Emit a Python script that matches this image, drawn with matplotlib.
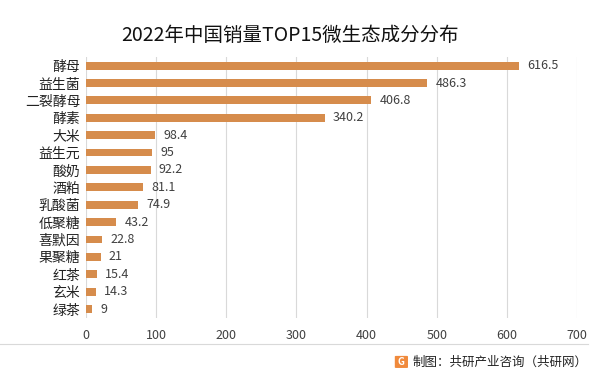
import matplotlib
matplotlib.use("Agg")
import matplotlib.pyplot as plt
from matplotlib.patches import FancyBboxPatch
from matplotlib.lines import Line2D

plt.rcParams['font.family'] = ['Noto Sans CJK SC', 'DejaVu Sans']

categories = ['酵母', '益生菌', '二裂酵母', '酵素', '大米', '益生元', '酸奶', '酒粕',
              '乳酸菌', '低聚糖', '喜默因', '果聚糖', '红茶', '玄米', '绿茶']
values = [616.5, 486.3, 406.8, 340.2, 98.4, 95, 92.2, 81.1,
          74.9, 43.2, 22.8, 21, 15.4, 14.3, 9]
value_labels = ['616.5', '486.3', '406.8', '340.2', '98.4', '95', '92.2', '81.1',
                '74.9', '43.2', '22.8', '21', '15.4', '14.3', '9']
xticks = [0, 100, 200, 300, 400, 500, 600, 700]

fig = plt.figure(figsize=(6, 3.77), dpi=100)
ax = fig.add_axes([0.143, 0.157, 0.819, 0.692])

ypos = list(range(len(categories)))
ax.barh(ypos, values, height=0.45, color='#D68C4C', zorder=3)
for y, v, lab in zip(ypos, values, value_labels):
    ax.text(v + 12, y, lab, va='center', ha='left', fontsize=9, color='#404040', zorder=4)

ax.set_yticks(ypos)
ax.set_yticklabels(categories, fontsize=10, color='#222222')
ax.set_ylim(len(categories) - 0.5, -0.5)
ax.set_xlim(0, 700)
ax.set_xticks(xticks)
ax.set_xticklabels([str(t) for t in xticks], fontsize=9, color='#404040')
ax.tick_params(length=0, pad=8)
ax.tick_params(axis='y', pad=4)
ax.xaxis.grid(True, color='#D9D9D9', linewidth=0.8, zorder=0)
ax.set_axisbelow(True)
for s in ax.spines.values():
    s.set_visible(False)
ax.patch.set_alpha(0)

fig.text(0.483, 0.905, '2022年中国销量TOP15微生态成分分布', fontsize=14,
         ha='center', va='center', color='#111111')

fig.add_artist(Line2D([0.0, 0.98], [0.087, 0.087], transform=fig.transFigure,
                      color='#D9D9D9', linewidth=0.8))
logo = FancyBboxPatch((0.660, 0.026), 0.018, 0.028, boxstyle='round,pad=0.002',
                      transform=fig.transFigure, facecolor='#F08A3C', edgecolor='none')
fig.add_artist(logo)
fig.text(0.669, 0.040, 'G', fontsize=7, fontweight='bold', color='white', ha='center', va='center')
fig.text(0.980, 0.039, '制图：共研产业咨询（共研网）', fontsize=9, ha='right', va='center', color='#222222')

fig.savefig('out.png', dpi=100)
